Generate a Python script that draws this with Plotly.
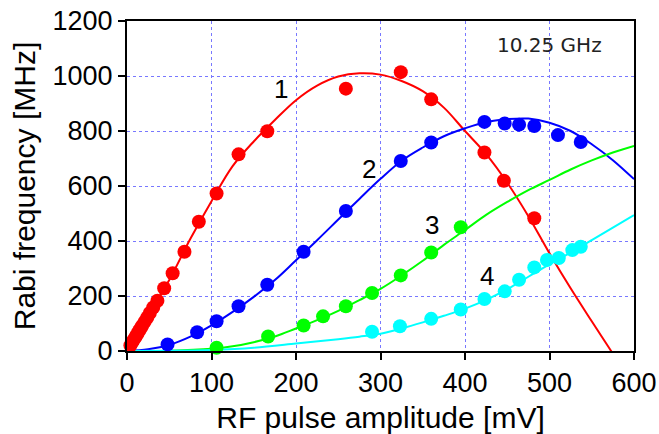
import plotly.graph_objects as go

# Measured Rabi frequencies (MHz) versus RF pulse amplitude (mV), four branches
x1 = [4, 6, 8, 10, 12, 14, 16, 18, 21, 24, 27, 31, 36, 44, 54, 68, 85, 106, 132, 166, 259, 324, 360, 423, 446, 482]
y1 = [20, 31, 41, 51, 61, 72, 82, 92, 107, 122, 138, 158, 183, 228, 283, 361, 470, 573, 715, 799, 954, 1014, 915, 722, 619, 483]

x2 = [48, 83, 106, 132, 166, 209, 259, 324, 360, 423, 447, 464, 482, 510, 537]
y2 = [24, 68, 108, 163, 241, 361, 509, 691, 758, 833, 827, 823, 818, 785, 760]

x3 = [106, 167, 209, 232, 259, 290, 324, 360, 395]
y3 = [12, 53, 93, 126, 163, 211, 275, 358, 450]

x4 = [290, 323, 360, 395, 423, 447, 464, 482, 497, 511, 527, 537]
y4 = [70, 90, 117, 151, 189, 217, 259, 304, 331, 338, 367, 379]

# Fitted curves, sampled along the amplitude axis
fx1 = [0, 25, 50, 75, 100, 125, 150, 175, 200, 225, 250, 275, 300, 325, 350, 375, 400, 425, 450, 475, 500, 525, 550, 575, 590]
fy1 = [0, 128, 258, 408, 545, 672, 762, 840, 912, 965, 998, 1010, 1005, 982, 945, 885, 800, 716, 612, 490, 355, 228, 108, -10, -85]

fx2 = [0, 25, 50, 75, 100, 125, 150, 175, 200, 225, 250, 275, 300, 325, 350, 375, 400, 425, 450, 475, 500, 525, 550, 575, 600]
fy2 = [0, 6, 22, 52, 93, 142, 197, 258, 330, 403, 478, 553, 626, 692, 740, 781, 810, 833, 843, 845, 830, 800, 752, 694, 625]

fx3 = [0, 50, 100, 125, 150, 175, 200, 225, 250, 275, 300, 325, 350, 375, 400, 425, 450, 475, 500, 525, 550, 575, 600]
fy3 = [0, 1, 8, 17, 32, 53, 82, 112, 146, 185, 226, 275, 328, 386, 440, 495, 542, 585, 622, 660, 693, 722, 746]

fx4 = [0, 50, 100, 150, 200, 250, 275, 300, 325, 350, 375, 400, 425, 450, 475, 500, 525, 550, 575, 600]
fy4 = [0, 1, 4, 12, 27, 43, 52, 63, 82, 104, 128, 154, 186, 225, 270, 315, 358, 403, 449, 494]

colors = ["#ff0000", "#0000ff", "#00ff00", "#00ffff"]
branch_labels = ["1", "2", "3", "4"]
label_x = [182, 286, 361, 426]
label_y = [954, 661, 459, 271]

fig = go.Figure()

for fx, fy, c in zip([fx1, fx2, fx3, fx4], [fy1, fy2, fy3, fy4], colors):
    fig.add_trace(go.Scatter(x=fx, y=fy, mode="lines",
                             line=dict(color=c, width=2, shape="spline", smoothing=1.0),
                             hoverinfo="skip", showlegend=False))

for xs, ys, c in zip([x1, x2, x3, x4], [y1, y2, y3, y4], colors):
    fig.add_trace(go.Scatter(x=xs, y=ys, mode="markers",
                             marker=dict(color=c, size=14, line=dict(width=0)),
                             cliponaxis=False, showlegend=False))

for t, lx, ly in zip(branch_labels, label_x, label_y):
    fig.add_annotation(x=lx, y=ly, text=t, showarrow=False,
                       font=dict(family="Liberation Sans, Arial", size=26, color="black"))

fig.add_annotation(x=500, y=1111, text="10.25 GHz", showarrow=False,
                   font=dict(family="DejaVu Sans", size=20, color="#222222"))

axis_common = dict(
    showline=True, linecolor="black", linewidth=2, mirror=True,
    ticks="outside", ticklen=7, tickwidth=2, tickcolor="black",
    showgrid=True, gridcolor="#7878ff", griddash="dot", gridwidth=1,
    zeroline=False, automargin=False,
    tickfont=dict(family="Liberation Sans, Arial", size=27, color="black"),
)

fig.update_xaxes(range=[0, 600], tickvals=[0, 100, 200, 300, 400, 500, 600],
                 title=dict(text="RF pulse amplitude [mV]", standoff=12,
                            font=dict(family="Liberation Sans, Arial", size=30, color="black")),
                 **axis_common)
fig.update_yaxes(range=[0, 1200], tickvals=[0, 200, 400, 600, 800, 1000, 1200],
                 title=dict(text="Rabi frequency [MHz]", standoff=8,
                            font=dict(family="Liberation Sans, Arial", size=30, color="black")),
                 **axis_common)

fig.update_layout(
    width=659, height=434,
    margin=dict(l=127, r=25, t=21, b=83, autoexpand=False),
    paper_bgcolor="white", plot_bgcolor="white",
    showlegend=False,
)

fig.write_html("out.html")
